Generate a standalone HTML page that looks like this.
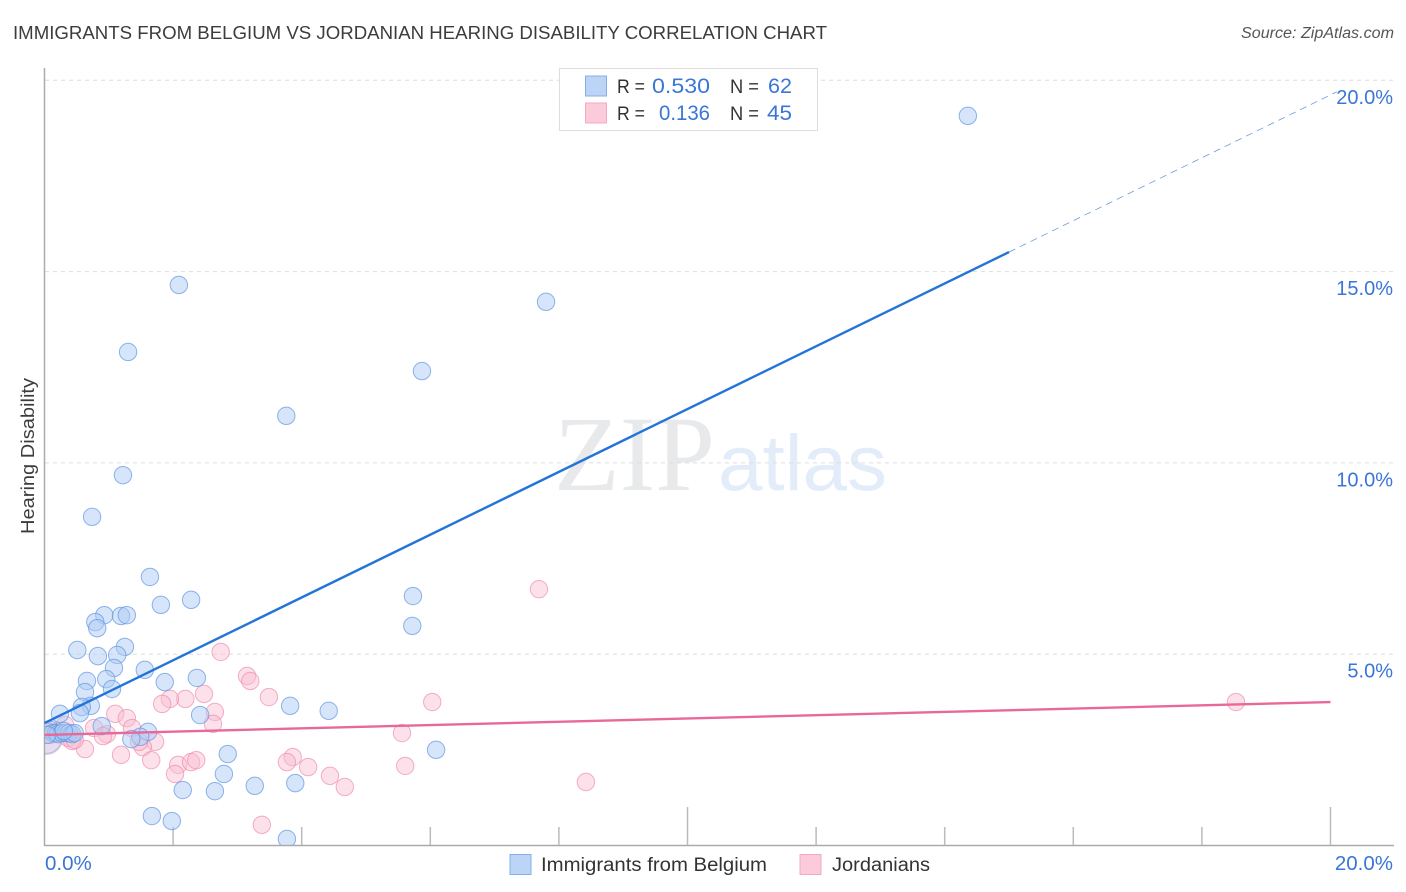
<!DOCTYPE html>
<html>
<head>
<meta charset="utf-8">
<style>
html,body{margin:0;padding:0;background:#fff;width:1406px;height:892px;overflow:hidden}
svg{display:block;font-family:"Liberation Sans",sans-serif}
</style>
</head>
<body>
<svg id="chart" width="1406" height="892" viewBox="0 0 1406 892">
  <defs><clipPath id="plot-clip"><rect x="45" y="68" width="1350" height="777"/></clipPath></defs>
  <text x="13" y="39" font-size="18.5" fill="#3c3c3c" textLength="814" lengthAdjust="spacingAndGlyphs">IMMIGRANTS FROM BELGIUM VS JORDANIAN HEARING DISABILITY CORRELATION CHART</text>
  <text x="1394" y="38" font-size="15.5" font-style="italic" fill="#555" text-anchor="end" textLength="153" lengthAdjust="spacingAndGlyphs">Source: ZipAtlas.com</text>
  <g>
    <text x="554" y="490" font-family="'Liberation Serif',serif" font-size="107" fill="#e7e9eb" textLength="161" lengthAdjust="spacingAndGlyphs">ZIP</text>
    <text x="718" y="490" font-size="79" fill="#e3edfa" textLength="169" lengthAdjust="spacingAndGlyphs">atlas</text>
  </g>
  <g id="grid"></g>
  <g id="axes"></g>
  <g id="points" clip-path="url(#plot-clip)"></g>
  <g id="trends"></g>
  <text transform="translate(34,456) rotate(-90)" font-size="18" fill="#3c3c3c" text-anchor="middle" textLength="156" lengthAdjust="spacingAndGlyphs">Hearing Disability</text>
  <g>
    <rect x="559.5" y="68.5" width="258" height="62" fill="#fff" stroke="#ddd" stroke-width="1"/>
    <rect x="585.5" y="76" width="21" height="20" fill="#bcd5f6" stroke="#85afe6"/>
    <rect x="585.5" y="103" width="21" height="20" fill="#fbcbdb" stroke="#f4a9c1"/>
    <text x="617" y="93" font-size="19" fill="#333" textLength="28" lengthAdjust="spacingAndGlyphs">R =</text>
    <text x="652" y="93" font-size="21" fill="#3a76d6" textLength="58" lengthAdjust="spacingAndGlyphs">0.530</text>
    <text x="730" y="93" font-size="19" fill="#333" textLength="29" lengthAdjust="spacingAndGlyphs">N =</text>
    <text x="768" y="93" font-size="21" fill="#3a76d6" textLength="24" lengthAdjust="spacingAndGlyphs">62</text>
    <text x="617" y="120" font-size="19" fill="#333" textLength="28" lengthAdjust="spacingAndGlyphs">R =</text>
    <text x="659" y="120" font-size="21" fill="#3a76d6" textLength="51" lengthAdjust="spacingAndGlyphs">0.136</text>
    <text x="730" y="120" font-size="19" fill="#333" textLength="29" lengthAdjust="spacingAndGlyphs">N =</text>
    <text x="767" y="120" font-size="21" fill="#3a76d6" textLength="25" lengthAdjust="spacingAndGlyphs">45</text>
  </g>
  <g>
    <g>
      <rect x="510" y="854.5" width="21" height="20" fill="#bcd5f6" stroke="#85afe6"/>
      <text x="541" y="871" font-size="19" fill="#333" textLength="226" lengthAdjust="spacingAndGlyphs">Immigrants from Belgium</text>
    </g>
    <g>
      <rect x="800" y="854.5" width="21" height="20" fill="#fbcbdb" stroke="#f4a9c1"/>
      <text x="832" y="871" font-size="19" fill="#333" textLength="98" lengthAdjust="spacingAndGlyphs">Jordanians</text>
    </g>
  </g>
</svg>
<script>
const gridValues = [5, 10, 15, 20];
const yTickLabels = ["5.0%", "10.0%", "15.0%", "20.0%"];
const xTickValues = [2, 4, 6, 8, 10, 12, 14, 16, 18, 20];
const xMajorTicks = [10, 20];
const xEndLabels = ["0.0%", "20.0%"];
const belgiumX = [14.36,2.09,7.80,1.30,5.87,3.76,1.22,0.74,1.64,2.28,1.81,5.73,5.72,0.93,1.19,1.28,0.79,0.82,1.25,0.51,0.83,1.13,1.08,1.56,0.66,0.96,0.63,1.05,1.87,2.37,0.72,0.58,0.55,0.24,0.89,2.42,3.82,4.42,1.61,1.49,1.35,2.85,6.09,2.79,2.15,2.65,3.27,3.90,1.67,1.98,3.77,0.09,0.13,0.18,0.21,0.27,0.33,0.38,0.43,0.47,0.30,0.04];
const belgiumY = [19.07,14.65,14.21,12.90,12.40,11.23,9.68,8.59,7.02,6.42,6.29,6.52,5.74,6.02,6.00,6.02,5.84,5.68,5.19,5.11,4.95,4.98,4.64,4.59,4.30,4.35,4.01,4.09,4.27,4.38,3.65,3.62,3.46,3.44,3.12,3.41,3.65,3.52,2.97,2.84,2.78,2.39,2.50,1.87,1.45,1.42,1.56,1.63,0.77,0.64,0.17,3.02,2.94,2.94,2.91,2.94,2.94,2.94,2.91,2.94,2.99,2.89];
const jordanX = [2.74,3.15,3.20,3.49,2.48,2.19,1.95,1.83,2.65,2.62,1.10,1.28,1.36,0.77,0.97,0.91,1.72,1.53,1.47,0.63,1.19,1.66,2.08,2.03,2.28,2.36,3.86,3.77,4.10,4.44,4.67,3.38,7.69,6.03,5.56,5.61,8.42,18.53,0.09,0.19,0.32,0.37,0.43,0.47,0.01];
const jordanY = [5.06,4.43,4.30,3.88,3.96,3.83,3.83,3.70,3.49,3.18,3.44,3.33,3.07,3.07,2.91,2.86,2.71,2.57,2.71,2.52,2.37,2.23,2.11,1.87,2.18,2.23,2.31,2.18,2.05,1.82,1.53,0.54,6.70,3.75,2.94,2.08,1.66,3.75,2.89,2.97,3.15,2.81,2.73,2.76,3.02];
const aggregateX = [0.03];
const aggregateY = [2.80];
const belgiumTrendX = [0, 15];
const belgiumTrendY = [3.2, 15.51];
const belgiumDashX = [15, 20.1];
const belgiumDashY = [15.51, 19.7];
const jordanTrendX = [0, 20];
const jordanTrendY = [2.89, 3.75];

const xScale = v => 44.5 + v * 64.3;
const yScale = v => 845.5 - v * 38.26;
const NS = "http://www.w3.org/2000/svg";
function make(parent, tag, attrs, text) {
  const el = document.createElementNS(NS, tag);
  for (const k in attrs) el.setAttribute(k, attrs[k]);
  if (text !== undefined) el.textContent = text;
  document.getElementById(parent).appendChild(el);
  return el;
}

gridValues.forEach((v, i) => {
  const line = make("grid", "line", {x1: 45, x2: 1393, y1: yScale(v), y2: yScale(v), stroke: "#ddd", "stroke-width": 1, "stroke-dasharray": "4 4"});
  
  
  const label = make("axes", "text", {x: 1393, y: yScale(v) + 23.5, "text-anchor": "end", "font-size": 20, fill: "#3a76d6"}, yTickLabels[i]);
  
  
});

const leftAxis = make("axes", "line", {x1: 44.5, x2: 44.5, y1: 68, y2: 846, stroke: "#aaa", "stroke-width": 1.5});


const bottomAxis = make("axes", "line", {x1: 44, x2: 1394, y1: 845.5, y2: 845.5, stroke: "#aaa", "stroke-width": 1.5});



xTickValues.forEach(v => {
  const tickTop = xMajorTicks.includes(v) ? 807 : 827;
  const tick = make("axes", "line", {x1: xScale(v), x2: xScale(v), y1: tickTop, y2: 845, stroke: "#bbb", "stroke-width": 1.5});
  
  
});

const xLabelLeft = make("axes", "text", {x: 45, y: 870, "font-size": 20.5, fill: "#3a76d6"}, xEndLabels[0]);


const xLabelRight = make("axes", "text", {x: 1393, y: 870, "text-anchor": "end", "font-size": 20.5, fill: "#3a76d6"}, xEndLabels[1]);



function drawPoint(cx, cy, r, fill, stroke, fillOpacity, strokeOpacity) {
  return make("points", "circle", {cx: xScale(cx), cy: yScale(cy), r: r, fill: fill, "fill-opacity": fillOpacity, stroke: stroke, "stroke-opacity": strokeOpacity, "stroke-width": 1});
}
aggregateX.forEach((v, i) => {
  const big = drawPoint(v, aggregateY[i], 16, "#f6b6cb", "#ee86a8", 0.35, 0.5);
  
  
});
jordanX.forEach((v, i) => {
  const p = drawPoint(v, jordanY[i], 8.7, "#f9bcd0", "#ee86a8", 0.45, 0.65);
  
  
});
aggregateX.forEach((v, i) => {
  const big = drawPoint(v, aggregateY[i], 15, "#b3cdf3", "#5f96e2", 0.3, 0.45);
  
  
});
belgiumX.forEach((v, i) => {
  const p = drawPoint(v, belgiumY[i], 8.7, "#aecbf3", "#5f96e2", 0.5, 0.7);
  
  
});

const blueLine = make("trends", "line", {x1: xScale(belgiumTrendX[0]), y1: yScale(belgiumTrendY[0]), x2: xScale(belgiumTrendX[1]), y2: yScale(belgiumTrendY[1]), stroke: "#2374d9", "stroke-width": 2.4});


const blueDash = make("trends", "line", {x1: xScale(belgiumDashX[0]), y1: yScale(belgiumDashY[0]), x2: xScale(belgiumDashX[1]), y2: yScale(belgiumDashY[1]), stroke: "#2374d9", "stroke-width": 0.8, "stroke-dasharray": "7 5", "stroke-opacity": 0.7});


const pinkLine = make("trends", "line", {x1: xScale(jordanTrendX[0]), y1: yScale(jordanTrendY[0]), x2: xScale(jordanTrendX[1]), y2: yScale(jordanTrendY[1]), stroke: "#e8689a", "stroke-width": 2.4});


</script>
</body>
</html>
